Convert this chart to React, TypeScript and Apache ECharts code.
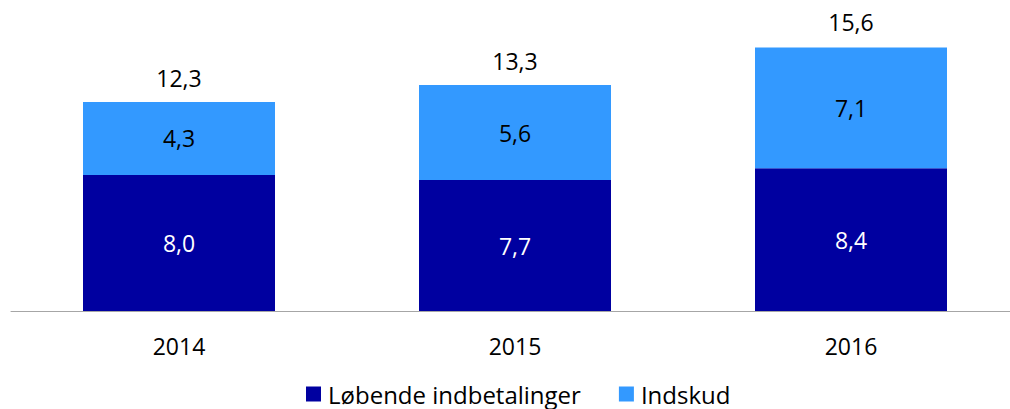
import React, { useEffect, useRef } from "react";
import * as echarts from "echarts";

const categories = ["2014", "2015", "2016"];
const lobende = [8.0, 7.7, 8.4];
const indskud = [4.3, 5.6, 7.1];
const totals = [12.3, 13.3, 15.6];
const seriesNames = ["Løbende indbetalinger", "Indskud"];

const FONT = "Open Sans";
const fmt = (v: number) => v.toFixed(1).replace(".", ",");

export default function App() {
  const ref = useRef<HTMLDivElement>(null);
  useEffect(() => {
    if (!ref.current) return;
    const chart = echarts.init(ref.current, undefined, { renderer: "svg" });
    chart.setOption({
      animation: false,
      textStyle: { fontFamily: FONT },
      grid: { left: 11, top: 5, width: 1008, height: 306, outerBoundsMode: "none", containLabel: false },
      legend: {
        data: seriesNames,
        top: 382,
        left: 306,
        itemWidth: 15,
        itemHeight: 15,
        itemGap: 38,
        icon: "rect",
        textStyle: { fontFamily: FONT, fontSize: 24, color: "#000", lineHeight: 24, padding: [0, 0, 0, 2] },
        padding: 0,
      },
      xAxis: {
        type: "category",
        data: categories,
        axisLine: { show: true, lineStyle: { color: "#a6a6a6", width: 1 } },
        axisTick: { show: false },
        axisLabel: { margin: 23, fontFamily: FONT, fontSize: 23, color: "#000", lineHeight: 24 },
      },
      yAxis: {
        type: "value",
        min: 0,
        max: 18,
        show: false,
        splitLine: { show: false },
      },
      series: [
        {
          name: seriesNames[0],
          type: "bar",
          stack: "total",
          barWidth: 192,
          data: lobende,
          itemStyle: { color: "#0000a0" },
          label: {
            show: true,
            position: "inside",
            color: "#fff",
            fontFamily: FONT,
            fontSize: 23,
            formatter: (p: any) => fmt(p.value),
          },
        },
        {
          name: seriesNames[1],
          type: "bar",
          stack: "total",
          barWidth: 192,
          data: indskud,
          itemStyle: { color: "#3399ff" },
          label: {
            show: true,
            position: "inside",
            color: "#000",
            fontFamily: FONT,
            fontSize: 23,
            formatter: (p: any) => fmt(p.value),
          },
        },
        {
          name: "Total",
          type: "line",
          data: totals,
          symbol: "circle",
          symbolSize: 2,
          showSymbol: true,
          itemStyle: { color: "rgba(0,0,0,0)" },
          lineStyle: { color: "rgba(0,0,0,0)", width: 0 },
          silent: true,
          label: {
            show: true,
            position: "top",
            distance: 11,
            color: "#000",
            fontFamily: FONT,
            fontSize: 23,
            lineHeight: 24,
            formatter: (p: any) => fmt(p.value),
          },
        },
      ],
    });
    return () => chart.dispose();
  }, []);
  return <div ref={ref} style={{ width: 1010, height: 409, position: "absolute", left: 0, top: 0 }} />;
}
